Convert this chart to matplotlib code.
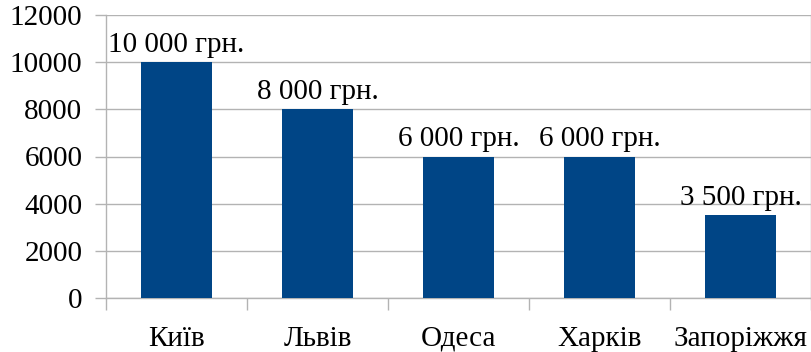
import matplotlib
matplotlib.use("Agg")  # без графічного інтерфейсу
import matplotlib.pyplot as plt
from matplotlib.ticker import FixedLocator

# Середня зарплата по містах
міста = ["Київ", "Львів", "Одеса", "Харків", "Запоріжжя"]
зарплата = [10000, 8000, 6000, 6000, 3500]
поділки_y = [0, 2000, 4000, 6000, 8000, 10000, 12000]

КОЛІР = "#004586"
СІТКА = "#b3b3b3"
ШРИФТ = 21

plt.rcParams["font.family"] = ["Liberation Serif", "DejaVu Serif"]

fig = plt.figure(figsize=(8.12, 3.52), dpi=100)
ax = fig.add_axes([106 / 812, 54 / 352, 705 / 812, 283 / 352])

x = range(len(міста))
ax.bar(x, зарплата, width=0.5, color=КОЛІР, zorder=3)

# Підписи значень над стовпцями
for i, v in enumerate(зарплата):
    текст = f"{v:,} грн.".replace(",", " ")
    ax.annotate(текст, (i, v), xytext=(0, 7.2), textcoords="offset points",
                ha="center", va="baseline", fontsize=ШРИФТ, color="black")

ax.set_xlim(-0.5, len(міста) - 0.5)
ax.set_ylim(0, 12000)
ax.set_yticks(поділки_y)
ax.set_yticklabels([str(t) for t in поділки_y])
ax.set_xticks(list(x))
ax.set_xticklabels(міста)
ax.xaxis.set_minor_locator(FixedLocator([i - 0.5 for i in range(len(міста) + 1)]))

ax.tick_params(axis="y", length=8, width=1, color=СІТКА, labelsize=ШРИФТ, pad=9)
ax.tick_params(axis="x", which="major", length=0, labelsize=ШРИФТ, pad=20)
ax.tick_params(axis="x", which="minor", length=8.5, width=1, color=СІТКА)

ax.grid(True, axis="y", color=СІТКА, linewidth=1, zorder=0)
for s in ax.spines.values():
    s.set_color(СІТКА)
    s.set_linewidth(1)
ax.spines["top"].set_visible(False)

fig.savefig("out.png", dpi=100)
plt.close(fig)
